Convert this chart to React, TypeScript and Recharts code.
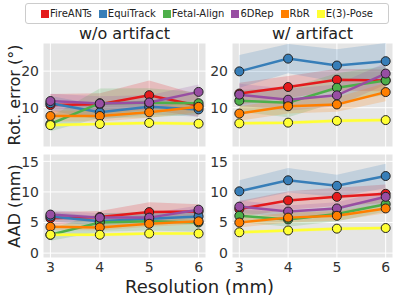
import React from "react"
import { ComposedChart, Line, Area, XAxis, YAxis, CartesianGrid } from "recharts"

const resolutions = [3, 4, 5, 6]
const methods = ["FireANTs", "EquiTrack", "Fetal-Align", "6DRep", "RbR", "E(3)-Pose"]
const colors = ["#e41a1c", "#377eb8", "#4daf4a", "#984ea3", "#ff7f00", "#ffff33"]

// rotation error (deg), without artifact
const rotWoMean = [
  [10.7, 10.9, 13.4, 10.5],
  [11.2, 8.7, 10.2, 9.5],
  [5.5, 11.2, 11.3, 11.2],
  [11.8, 11.1, 11.4, 14.3],
  [7.7, 7.7, 8.7, 10.2],
  [5.2, 5.5, 5.8, 5.6],
]
const rotWoStd = [
  [3, 3, 4, 3],
  [2, 2, 2, 2],
  [2, 4, 4, 3],
  [2, 2, 2, 2],
  [1.5, 1.5, 1.5, 1.5],
  [0.5, 0.5, 0.5, 0.5],
]
// rotation error (deg), with artifact
const rotWMean = [
  [13.9, 15.7, 17.7, 17.5],
  [20.0, 23.5, 21.6, 22.8],
  [11.9, 11.4, 15.5, 17.5],
  [13.6, 12.2, 13.4, 19.4],
  [8.4, 10.4, 10.9, 14.3],
  [5.7, 5.9, 6.4, 6.6],
]
const rotWStd = [
  [3, 3, 3, 3],
  [4.5, 4, 4.5, 5],
  [3, 4, 4, 4],
  [3, 3, 3, 3],
  [2, 2, 2, 2.5],
  [0.5, 0.5, 0.5, 0.5],
]
// AAD (mm), without artifact
const aadWoMean = [
  [5.7, 5.9, 6.7, 6.8],
  [6.0, 5.2, 5.6, 6.0],
  [3.0, 5.0, 5.2, 5.0],
  [6.3, 5.8, 5.8, 7.1],
  [4.3, 4.2, 4.8, 5.2],
  [3.0, 3.0, 3.2, 3.2],
]
const aadWoStd = [
  [1, 1, 1.6, 1.2],
  [0.8, 0.8, 0.8, 0.8],
  [1, 1.5, 1.5, 1.5],
  [0.7, 0.7, 0.7, 0.7],
  [0.5, 0.5, 0.5, 0.5],
  [0.3, 0.3, 0.3, 0.3],
]
// AAD (mm), with artifact
const aadWMean = [
  [7.2, 8.6, 9.2, 9.7],
  [10.1, 11.9, 11.0, 12.6],
  [6.1, 5.5, 6.4, 8.0],
  [7.6, 6.8, 7.3, 9.2],
  [5.0, 5.8, 6.1, 7.3],
  [3.4, 3.7, 4.0, 4.1],
]
const aadWStd = [
  [1.3, 1.5, 1.5, 1.5],
  [1.8, 2, 1.8, 2],
  [1, 1.2, 1.2, 1.2],
  [1, 1, 1, 1],
  [0.8, 0.8, 0.8, 0.8],
  [0.3, 0.3, 0.3, 0.3],
]

const rotTicks = [0, 10, 20]
const aadTicks = [0, 5, 10, 15]

const font = "DejaVu Sans, sans-serif"

function buildRows(mean: number[][], std: number[][]) {
  return resolutions.map((x, i) => {
    const row: any = { x }
    methods.forEach((_, s) => {
      row["m" + s] = mean[s][i]
      row["r" + s] = [mean[s][i] - std[s][i], mean[s][i] + std[s][i]]
    })
    return row
  })
}

interface PanelProps {
  mean: number[][]
  std: number[][]
  left: number
  top: number
  plotW: number
  domain: [number, number]
  ticks: number[]
  showX: boolean
}

function Panel({ mean, std, left, top, plotW, domain, ticks, showX }: PanelProps) {
  const data = buildRows(mean, std)
  const yW = 32
  const xH = showX ? 22 : 0
  return (
    <div style={{ position: "absolute", left: left - yW, top }}>
      <ComposedChart width={plotW + yW} height={104 + xH} data={data} margin={{ top: 0, right: 0, bottom: 0, left: 0 }}>
        <CartesianGrid fill="#e5e5e5" stroke="#ffffff" strokeWidth={1} />
        <XAxis
          dataKey="x"
          type="number"
          domain={[2.85, 6.15]}
          ticks={resolutions}
          hide={!showX}
          height={xH}
          axisLine={false}
          tickLine={false}
          tickSize={2}
          tick={{ fill: "#333", fontSize: 14, fontFamily: font }}
        />
        <YAxis
          type="number"
          domain={domain}
          ticks={ticks}
          width={yW}
          axisLine={false}
          tickLine={false}
          tickSize={0}
          tickMargin={4}
          tick={{ fill: "#333", fontSize: 14, fontFamily: font }}
        />
        {methods.map((_, s) => (
          <Area
            key={"a" + s}
            dataKey={"r" + s}
            type="linear"
            stroke="none"
            fill={colors[s]}
            fillOpacity={0.2}
            isAnimationActive={false}
            activeDot={false}
          />
        ))}
        {methods.map((_, s) => (
          <Line
            key={"l" + s}
            dataKey={"m" + s}
            type="linear"
            stroke={colors[s]}
            strokeWidth={2.5}
            dot={{ r: 4.5, fill: colors[s], stroke: "#222", strokeWidth: 1 }}
            isAnimationActive={false}
          />
        ))}
      </ComposedChart>
    </div>
  )
}

export default function App() {
  return (
    <div style={{ position: "absolute", left: 0, top: 0, width: 397, height: 303, background: "#fff", fontFamily: font, color: "#222" }}>
      <div
        style={{
          position: "absolute", left: 25, top: 3, width: 362, height: 19,
          border: "1px solid #ccc", borderRadius: 3, display: "flex", alignItems: "center",
          justifyContent: "center", gap: 7, fontSize: 10,
        }}
      >
        {methods.map((m, s) => (
          <div key={m} style={{ display: "flex", alignItems: "center", gap: 1 }}>
            <div style={{ width: 8, height: 8, background: colors[s] }} />
            <span>{m}</span>
          </div>
        ))}
      </div>
      <div style={{ position: "absolute", left: 43, top: 24, width: 163, textAlign: "center", fontSize: 16 }}>w/o artifact</div>
      <div style={{ position: "absolute", left: 232, top: 24, width: 161, textAlign: "center", fontSize: 16 }}>w/ artifact</div>
      <div style={{ position: "absolute", left: 14, top: 95, transform: "translate(-50%, -50%) rotate(-90deg)", whiteSpace: "nowrap", fontSize: 16 }}>Rot. error (°)</div>
      <div style={{ position: "absolute", left: 14, top: 206, transform: "translate(-50%, -50%) rotate(-90deg)", whiteSpace: "nowrap", fontSize: 16 }}>AAD (mm)</div>
      <div style={{ position: "absolute", left: 117, top: 278, width: 165, lineHeight: "18px", textAlign: "center", fontSize: 18, whiteSpace: "nowrap" }}>Resolution (mm)</div>

      <Panel mean={rotWoMean} std={rotWoStd} left={43} top={43} plotW={163} domain={[-0.8, 27.7]} ticks={rotTicks} showX={false} />
      <Panel mean={rotWMean} std={rotWStd} left={232} top={43} plotW={161} domain={[-0.8, 27.7]} ticks={rotTicks} showX={false} />
      <Panel mean={aadWoMean} std={aadWoStd} left={43} top={154} plotW={163} domain={[-0.8, 16.2]} ticks={aadTicks} showX={true} />
      <Panel mean={aadWMean} std={aadWStd} left={232} top={154} plotW={161} domain={[-0.8, 16.2]} ticks={aadTicks} showX={true} />
    </div>
  )
}
